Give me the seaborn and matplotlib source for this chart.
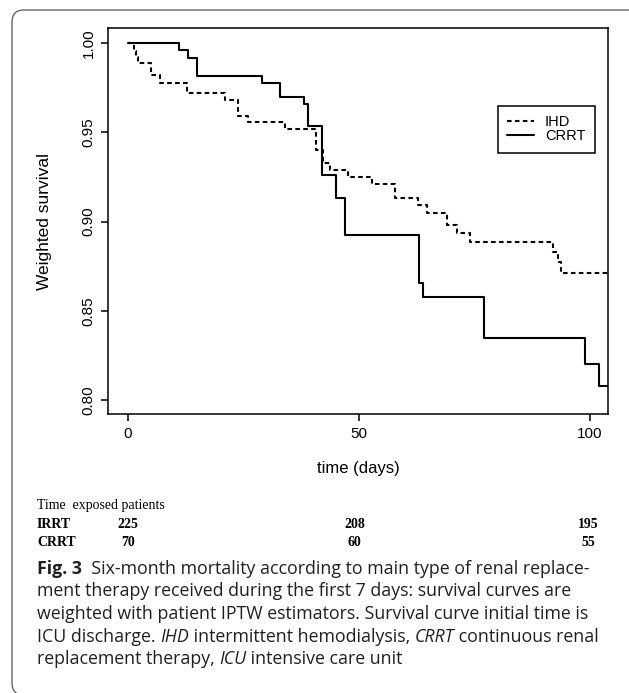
import matplotlib
matplotlib.use("Agg")
import matplotlib.pyplot as plt
import matplotlib.transforms as mtransforms
from matplotlib.patches import FancyBboxPatch
from matplotlib.lines import Line2D
import pandas as pd
import seaborn as sns

# curvas de supervivencia ponderada, escalon al final de cada tramo
ihd_time = [0, 1.2, 1.8, 2.2, 4.9, 6.9, 12.8, 21, 23.9, 25.9, 34, 40.8, 42.3, 43.7,
            47.7, 52.9, 57.8, 62.8, 64.8, 69, 71.3, 74, 91.9, 93, 93.8, 104]
ihd_surv = [1.0, 0.9955, 0.992, 0.9888, 0.9822, 0.9776, 0.972, 0.9678, 0.9589, 0.9555,
            0.952, 0.9402, 0.9328, 0.9286, 0.9252, 0.9212, 0.9132, 0.9094, 0.9048,
            0.8982, 0.8936, 0.8883, 0.8827, 0.8775, 0.8712, 0.8712]

crrt_time = [0, 11, 12.9, 15, 28.9, 33, 38, 38.9, 42, 45, 47, 63, 63.8, 77, 99, 102, 104]
crrt_surv = [1.0, 0.9959, 0.9914, 0.9813, 0.9776, 0.9697, 0.966, 0.9537, 0.9258,
             0.9133, 0.8922, 0.8654, 0.8575, 0.8345, 0.8201, 0.808, 0.808]

# pacientes expuestos
risk_times = [0, 49, 99.6]
risk_irrt = [225, 208, 195]
risk_crrt = [70, 60, 55]

x_ticks = [0, 50, 100]
y_ticks = [0.80, 0.85, 0.90, 0.95, 1.00]

sns.set_style("white")
plt.rcParams["font.family"] = ["Liberation Sans", "DejaVu Sans"]
plt.rcParams["text.color"] = "black"

W, H = 629, 693
fig = plt.figure(figsize=(W / 100, H / 100), dpi=100)
ax = fig.add_axes([108 / W, 1 - 414 / H, 500 / W, 386 / H])


def fy(y_px):
    return 1 - y_px / H


df = pd.concat([
    pd.DataFrame({"time": ihd_time, "surv": ihd_surv, "grupo": "IHD"}),
    pd.DataFrame({"time": crrt_time, "surv": crrt_surv, "grupo": "CRRT"}),
], ignore_index=True)

sns.lineplot(data=df, x="time", y="surv", hue="grupo", style="grupo",
             palette={"IHD": "black", "CRRT": "black"},
             dashes={"IHD": (2.2, 1.6), "CRRT": ""},
             drawstyle="steps-post", estimator=None, linewidth=1.5,
             legend=False, ax=ax)

ax.set_xlim(-4.33, 103.9)
ax.set_ylim(0.7922, 1.0084)
ax.set_xticks(x_ticks)
ax.set_xticklabels([str(v) for v in x_ticks])
ax.set_yticks(y_ticks)
ax.set_yticklabels([f"{v:.2f}" for v in y_ticks], rotation=90, va="center")
ax.tick_params(direction="out", length=5, width=1.1, pad=4, labelsize=11,
               bottom=True, left=True, colors="black")
for s in ax.spines.values():
    s.set_visible(True)
    s.set_color("black")
    s.set_linewidth(1.1)
ax.set_xlabel("")
ax.set_ylabel("")

handles = [Line2D([], [], color="black", lw=1.5, dashes=(2.2, 1.6)),
           Line2D([], [], color="black", lw=1.5)]
leg = ax.legend(handles, ["IHD", "CRRT"], loc="upper right",
                bbox_to_anchor=(0.974, 0.799), frameon=True, fancybox=False,
                edgecolor="black", framealpha=1, borderaxespad=0, fontsize=10.5,
                handlelength=1.85, handletextpad=0.75, borderpad=0.65, labelspacing=0.0)
leg.get_frame().set_linewidth(1.1)

fig.text(45 / W, fy(222), "Weighted survival", rotation=90, ha="center", va="center",
         fontsize=12.5)
fig.text(358 / W, fy(468), "time (days)", ha="center", va="center", fontsize=12)

# marco redondeado (solo se ven el borde superior e izquierdo)
marco = FancyBboxPatch((12, -2), 640, 685, boxstyle="round,pad=0,rounding_size=12",
                       transform=mtransforms.IdentityTransform(), fill=False,
                       edgecolor="#555555", linewidth=0.9, clip_on=False)
fig.add_artist(marco)

# tabla de expuestos
serif = ["Liberation Serif", "DejaVu Serif"]
fig.text(37 / W, fy(509), "Time  exposed patients", family=serif, fontsize=10,
         ha="left", va="baseline")
trans = mtransforms.blended_transform_factory(ax.transData, fig.transFigure)
for nombre, valores, yb in [("IRRT", risk_irrt, 528), ("CRRT", risk_crrt, 546)]:
    fig.text(37 / W, fy(yb), nombre, family=serif, fontsize=10, fontweight="bold",
             ha="left", va="baseline")
    for t, v in zip(risk_times, valores):
        fig.text(t, fy(yb), str(v), transform=trans, family=serif, fontsize=10,
                 fontweight="bold", ha="center", va="baseline")

# leyenda de la figura
renderer = fig.canvas.get_renderer()


def linea_mixta(partes, x_px, y_px, size=12.8):
    x = x_px
    for texto, estilo in partes:
        t = fig.text(x / W, fy(y_px), texto, fontsize=size, family=["Open Sans", "DejaVu Sans"],
                     fontweight="bold" if estilo == "b" else "normal",
                     fontstyle="italic" if estilo == "i" else "normal",
                     ha="left", va="baseline", color="#231f20")
        x += t.get_window_extent(renderer).width


lineas = [
    [("Fig. 3", "b"), ("  Six-month mortality according to main type of renal replace-", "r")],
    [("ment therapy received during the first 7 days: survival curves are", "r")],
    [("weighted with patient IPTW estimators. Survival curve initial time is", "r")],
    [("ICU discharge. ", "r"), ("IHD", "i"), (" intermittent hemodialysis, ", "r"),
     ("CRRT", "i"), (" continuous renal", "r")],
    [("replacement therapy, ", "r"), ("ICU", "i"), (" intensive care unit", "r")],
]
for i, partes in enumerate(lineas):
    linea_mixta(partes, 37, 574 + i * 22.5)

fig.savefig("out.png", dpi=100)
